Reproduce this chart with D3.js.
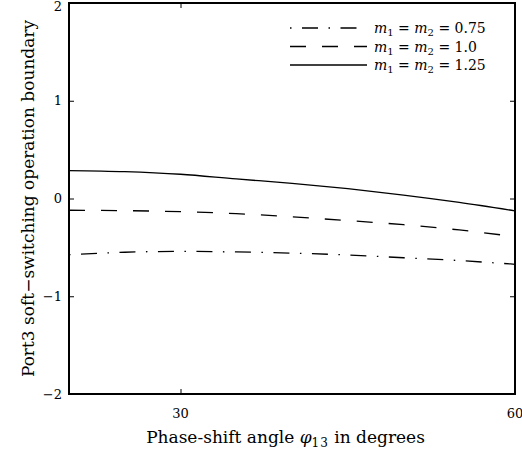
<!DOCTYPE html>
<html>
<head>
<meta charset="utf-8">
<script src="https://cdn.jsdelivr.net/npm/d3@7"></script>
<style>
  html, body { margin: 0; padding: 0; background: #fff; }
  svg { display: block; }
  text { font-family: "DejaVu Serif", serif; fill: #000; }
</style>
</head>
<body>
<svg id="chart" width="522" height="454"></svg>
<script>
// Phase-shift angle samples (degrees)
const phi = [20, 25, 30, 35, 40, 45, 50, 55, 60];
// Port3 soft-switching operation boundary for each m1 = m2 setting
const bound075 = [-0.575, -0.550, -0.541, -0.547, -0.559, -0.578, -0.606, -0.635, -0.673];
const bound100 = [-0.120, -0.124, -0.135, -0.155, -0.188, -0.226, -0.268, -0.322, -0.390];
const bound125 = [0.286, 0.275, 0.248, 0.200, 0.155, 0.100, 0.035, -0.040, -0.126];
const seriesLabels = ["0.75", "1.0", "1.25"];
const xTicks = [30, 60];
const yTicks = [-2, -1, 0, 1, 2];

const svg = d3.select("#chart");
const L = 69, R = 515, T = 3, B = 394;

const x = d3.scaleLinear().domain([20, 60]).range([L, R]);
const y = d3.scaleLinear().domain([-2, 2]).range([B, T]);

// clip region for the curves
svg.append("defs").append("clipPath").attr("id", "plotclip")
  .append("rect").attr("x", L).attr("y", T).attr("width", R - L).attr("height", B - T);

const styles = [
  { data: bound075, dash: "1.5,10.5,16,10.5" },
  { data: bound100, dash: "16,16" },
  { data: bound125, dash: null }
];

const line = d3.line()
  .x((d, i) => x(phi[i]))
  .y(d => y(d))
  .curve(d3.curveMonotoneX);

const curves = svg.append("g").attr("clip-path", "url(#plotclip)");
styles.forEach(s => {
  curves.append("path")
    .datum(s.data)
    .attr("d", line)
    .attr("fill", "none")
    .attr("stroke", "#000")
    .attr("stroke-width", 1.3)
    .attr("stroke-dasharray", s.dash);
});

// axes with inward ticks on all four sides
const tickLen = 5;
const fmt = d => d < 0 ? "\u2212" + Math.abs(d) : String(d);

const axL = svg.append("g").attr("transform", `translate(${L},0)`)
  .call(d3.axisRight(y).tickValues(yTicks).tickSize(tickLen).tickFormat(""));
const axR = svg.append("g").attr("transform", `translate(${R},0)`)
  .call(d3.axisLeft(y).tickValues(yTicks).tickSize(tickLen).tickFormat(""));
const axB = svg.append("g").attr("transform", `translate(0,${B})`)
  .call(d3.axisTop(x).tickValues(xTicks).tickSize(tickLen).tickFormat(""));
const axT = svg.append("g").attr("transform", `translate(0,${T})`)
  .call(d3.axisBottom(x).tickValues(xTicks).tickSize(tickLen).tickFormat(""));
[axL, axR, axB, axT].forEach(g => {
  g.select(".domain").remove();
  g.selectAll(".tick line").attr("stroke", "#000").attr("stroke-width", 1);
});

// tick labels
svg.append("g").selectAll("text").data(yTicks).join("text")
  .attr("x", L - 7).attr("y", d => Math.max(y(d), 6)).attr("dy", "0.36em")
  .attr("text-anchor", "end").attr("font-size", 13)
  .text(fmt);
svg.append("g").selectAll("text").data(xTicks).join("text")
  .attr("x", d => x(d)).attr("y", 418)
  .attr("text-anchor", "middle").attr("font-size", 13)
  .text(fmt);

// frame
svg.append("rect")
  .attr("x", L).attr("y", T).attr("width", R - L).attr("height", B - T)
  .attr("fill", "none").attr("stroke", "#000").attr("stroke-width", 2);

// x axis title
const xt = svg.append("text").attr("x", 285.5).attr("y", 443)
  .attr("text-anchor", "middle").attr("font-size", 17);
xt.append("tspan").text("Phase-shift angle ");
xt.append("tspan").attr("font-style", "italic").text("\u03c6");
xt.append("tspan").attr("font-size", 12).attr("dy", 4).attr("letter-spacing", 1).text("13");
xt.append("tspan").attr("dy", -4).text(" in degrees");

// y axis title
svg.append("text")
  .attr("transform", `translate(34,${(T + B) / 2}) rotate(-90)`)
  .attr("text-anchor", "middle").attr("font-size", 17)
  .text("Port3 soft\u2212switching operation boundary");

// legend
const lg = svg.append("g");
const rowY = [28, 46.5, 65];
styles.forEach((s, i) => {
  lg.append("line")
    .attr("x1", 290).attr("x2", 367).attr("y1", rowY[i]).attr("y2", rowY[i])
    .attr("stroke", "#000").attr("stroke-width", 1.3)
    .attr("stroke-dasharray", s.dash);
  const t = lg.append("text").attr("x", 374).attr("y", rowY[i] + 5).attr("font-size", 14);
  t.append("tspan").attr("font-style", "italic").text("m");
  t.append("tspan").attr("font-size", 10).attr("dy", 3).text("1");
  t.append("tspan").attr("dy", -3).text(" = ");
  t.append("tspan").attr("font-style", "italic").text("m");
  t.append("tspan").attr("font-size", 10).attr("dy", 3).text("2");
  t.append("tspan").attr("dy", -3).text(" = " + seriesLabels[i]);
});
</script>
</body>
</html>
